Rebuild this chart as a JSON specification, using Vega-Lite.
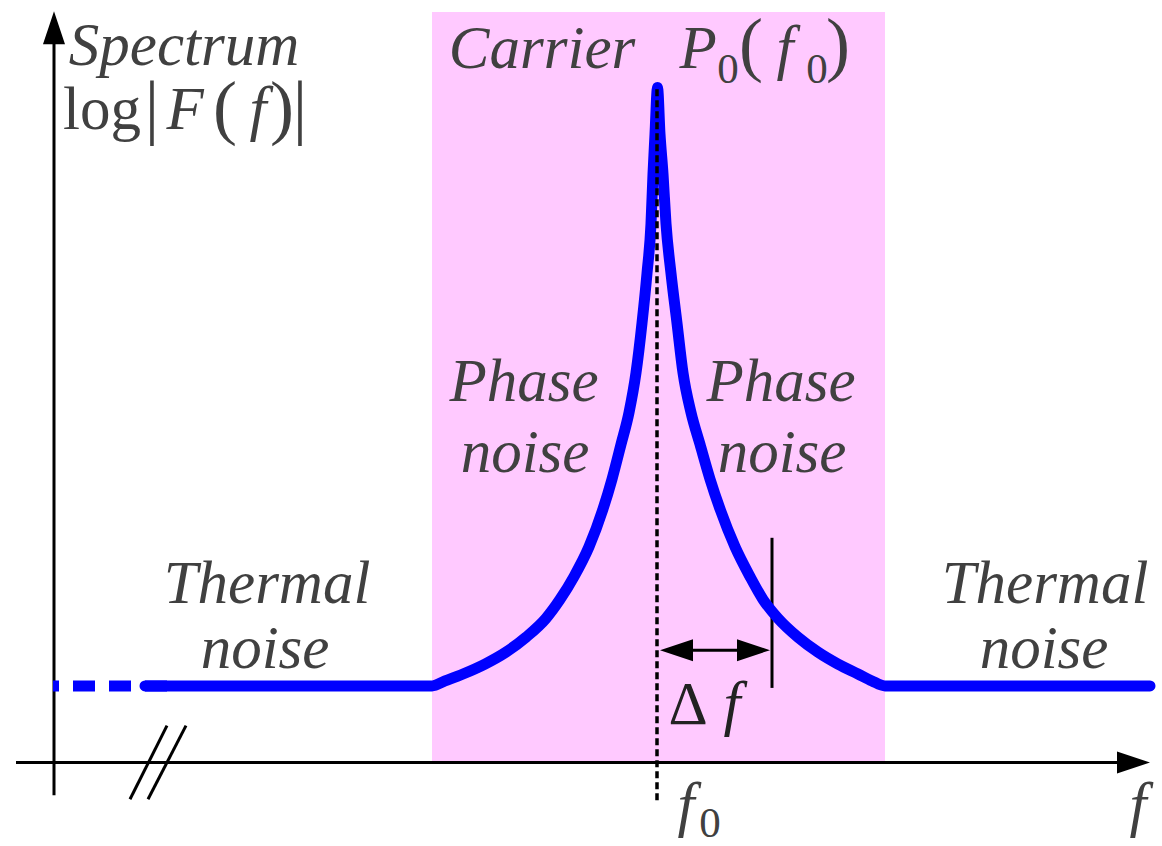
{
  "$schema": "https://vega.github.io/schema/vega-lite/v6.json",
  "width": 1162,
  "height": 846,
  "autosize": {"type": "fit", "contains": "padding"},
  "padding": 0,
  "background": "white",
  "config": {"view": {"stroke": null}},
  "datasets": {
    "band": [{"freq": 432, "freq_end": 885, "level": 79, "level_end": 834}],
    "segments": [
      {"part": "frequency axis", "freq": 16, "level": 79, "freq_end": 1120, "level_end": 79},
      {"part": "spectrum axis", "freq": 54, "level": 46, "freq_end": 54, "level_end": 815},
      {"part": "break 1", "freq": 130, "level": 42, "freq_end": 167, "level_end": 116},
      {"part": "break 2", "freq": 148, "level": 42, "freq_end": 186, "level_end": 116},
      {"part": "offset marker", "freq": 772, "level": 154, "freq_end": 772, "level_end": 305},
      {"part": "offset shaft", "freq": 676, "level": 192, "freq_end": 756, "level_end": 192}
    ],
    "carrierLine": [{"freq": 657, "level": 41, "freq_end": 657, "level_end": 758}],
    "spectrum": [
      {"freq": 145, "level": 156},
      {"freq": 432, "level": 156},
      {"freq": 445, "level": 161},
      {"freq": 463, "level": 168},
      {"freq": 485, "level": 178},
      {"freq": 506, "level": 190},
      {"freq": 526, "level": 205},
      {"freq": 546, "level": 224},
      {"freq": 560, "level": 243},
      {"freq": 574, "level": 266},
      {"freq": 589, "level": 296},
      {"freq": 603, "level": 334},
      {"freq": 612, "level": 364},
      {"freq": 621, "level": 399},
      {"freq": 629, "level": 431},
      {"freq": 636, "level": 471},
      {"freq": 642, "level": 521},
      {"freq": 647, "level": 571},
      {"freq": 651, "level": 621},
      {"freq": 653, "level": 671},
      {"freq": 655, "level": 711},
      {"freq": 657.5, "level": 758},
      {"freq": 660, "level": 711},
      {"freq": 663, "level": 671},
      {"freq": 666, "level": 621},
      {"freq": 671, "level": 571},
      {"freq": 677, "level": 521},
      {"freq": 683, "level": 471},
      {"freq": 691, "level": 431},
      {"freq": 700, "level": 399},
      {"freq": 710, "level": 364},
      {"freq": 720, "level": 334},
      {"freq": 735, "level": 296},
      {"freq": 750, "level": 266},
      {"freq": 763, "level": 243},
      {"freq": 778, "level": 224},
      {"freq": 798, "level": 205},
      {"freq": 818, "level": 190},
      {"freq": 838, "level": 178},
      {"freq": 858, "level": 168},
      {"freq": 872, "level": 161},
      {"freq": 885, "level": 156},
      {"freq": 1150, "level": 156}
    ],
    "floorStub": [
      {"freq": 167, "level": 156, "seq": 0},
      {"freq": 53, "level": 156, "seq": 1}
    ],
    "heads": [
      {"dir": "up", "freq": 54, "level": 818},
      {"dir": "right", "freq": 1133.5, "level": 79},
      {"dir": "right", "freq": 753.5, "level": 192},
      {"dir": "left", "freq": 676.5, "level": 192}
    ],
    "italicLabels": [
      {"text": "Spectrum", "freq": 184, "level": 781},
      {"text": "F", "freq": 185, "level": 716},
      {"text": "f", "freq": 258, "level": 716},
      {"text": "Carrier", "freq": 542, "level": 778},
      {"text": "P", "freq": 698, "level": 778},
      {"text": "f", "freq": 785, "level": 778},
      {"text": "Phase", "freq": 524, "level": 443},
      {"text": "noise", "freq": 525, "level": 371},
      {"text": "Phase", "freq": 781, "level": 443},
      {"text": "noise", "freq": 782, "level": 371},
      {"text": "Thermal", "freq": 267, "level": 239},
      {"text": "noise", "freq": 265, "level": 174},
      {"text": "Thermal", "freq": 1045, "level": 239},
      {"text": "noise", "freq": 1044, "level": 174},
      {"text": "f", "freq": 686, "level": 16},
      {"text": "f", "freq": 1138, "level": 16}
    ],
    "uprightLabels": [{"text": "log", "freq": 102, "level": 716}],
    "delimiters": [
      {"text": "|", "freq": 152, "level": 714},
      {"text": "(", "freq": 225, "level": 714},
      {"text": ")", "freq": 282, "level": 714},
      {"text": "|", "freq": 300, "level": 714},
      {"text": "(", "freq": 751, "level": 778},
      {"text": ")", "freq": 838, "level": 778}
    ],
    "subscripts": [
      {"text": "0", "freq": 728, "level": 763},
      {"text": "0", "freq": 817, "level": 763},
      {"text": "0", "freq": 710, "level": 4}
    ],
    "deltaSymbol": [{"text": "Δ", "freq": 688, "level": 118}],
    "deltaVar": [{"text": "f", "freq": 732, "level": 118}]
  },
  "encoding": {
    "x": {"field": "freq", "type": "quantitative", "axis": null, "scale": {"domain": [0, 1162], "nice": false, "zero": false}},
    "y": {"field": "level", "type": "quantitative", "axis": null, "scale": {"domain": [0, 846], "nice": false, "zero": false}}
  },
  "layer": [
    {
      "data": {"name": "band"},
      "mark": {"type": "rect", "color": "#ffc9ff"},
      "encoding": {"x2": {"field": "freq_end"}, "y2": {"field": "level_end"}}
    },
    {
      "data": {"name": "segments"},
      "mark": {"type": "rule", "color": "black", "strokeWidth": 3},
      "encoding": {"x2": {"field": "freq_end"}, "y2": {"field": "level_end"}}
    },
    {
      "data": {"name": "floorStub"},
      "mark": {"type": "line", "color": "#0000ff", "strokeWidth": 11, "strokeDash": [22, 14], "strokeCap": "butt"},
      "encoding": {"order": {"field": "seq", "type": "quantitative"}}
    },
    {
      "data": {"name": "spectrum"},
      "mark": {"type": "line", "color": "#0000ff", "strokeWidth": 11, "interpolate": "monotone", "strokeCap": "round", "strokeJoin": "round"},
      "encoding": {}
    },
    {
      "data": {"name": "carrierLine"},
      "mark": {"type": "rule", "color": "black", "strokeWidth": 3.5, "strokeDash": [7, 4]},
      "encoding": {"x2": {"field": "freq_end"}, "y2": {"field": "level_end"}}
    },
    {
      "data": {"name": "heads"},
      "mark": {"type": "point", "filled": true, "color": "black", "opacity": 1, "size": 1089, "strokeWidth": 0},
      "encoding": {
        "shape": {
          "field": "dir",
          "type": "nominal",
          "legend": null,
          "scale": {
            "domain": ["up", "right", "left"],
            "range": ["M0,-1L0.667,1L-0.667,1Z", "M1,0L-1,0.667L-1,-0.667Z", "M-1,0L1,0.667L1,-0.667Z"]
          }
        }
      }
    },
    {
      "data": {"name": "italicLabels"},
      "mark": {"type": "text", "font": "Times New Roman", "fontStyle": "italic", "fontSize": 61, "fill": "#404040", "align": "center", "baseline": "alphabetic"},
      "encoding": {"text": {"field": "text", "type": "nominal"}}
    },
    {
      "data": {"name": "uprightLabels"},
      "mark": {"type": "text", "font": "Times New Roman", "fontSize": 61, "fill": "#404040", "align": "center", "baseline": "alphabetic"},
      "encoding": {"text": {"field": "text", "type": "nominal"}}
    },
    {
      "data": {"name": "delimiters"},
      "mark": {"type": "text", "font": "Times New Roman", "fontSize": 72, "fill": "#404040", "align": "center", "baseline": "alphabetic"},
      "encoding": {"text": {"field": "text", "type": "nominal"}}
    },
    {
      "data": {"name": "subscripts"},
      "mark": {"type": "text", "font": "Times New Roman", "fontSize": 43, "fill": "#404040", "align": "center", "baseline": "alphabetic"},
      "encoding": {"text": {"field": "text", "type": "nominal"}}
    },
    {
      "data": {"name": "deltaSymbol"},
      "mark": {"type": "text", "font": "Times New Roman", "fontSize": 61, "fill": "#222222", "align": "center", "baseline": "alphabetic"},
      "encoding": {"text": {"field": "text", "type": "nominal"}}
    },
    {
      "data": {"name": "deltaVar"},
      "mark": {"type": "text", "font": "Times New Roman", "fontStyle": "italic", "fontSize": 61, "fill": "#222222", "align": "center", "baseline": "alphabetic"},
      "encoding": {"text": {"field": "text", "type": "nominal"}}
    }
  ]
}
